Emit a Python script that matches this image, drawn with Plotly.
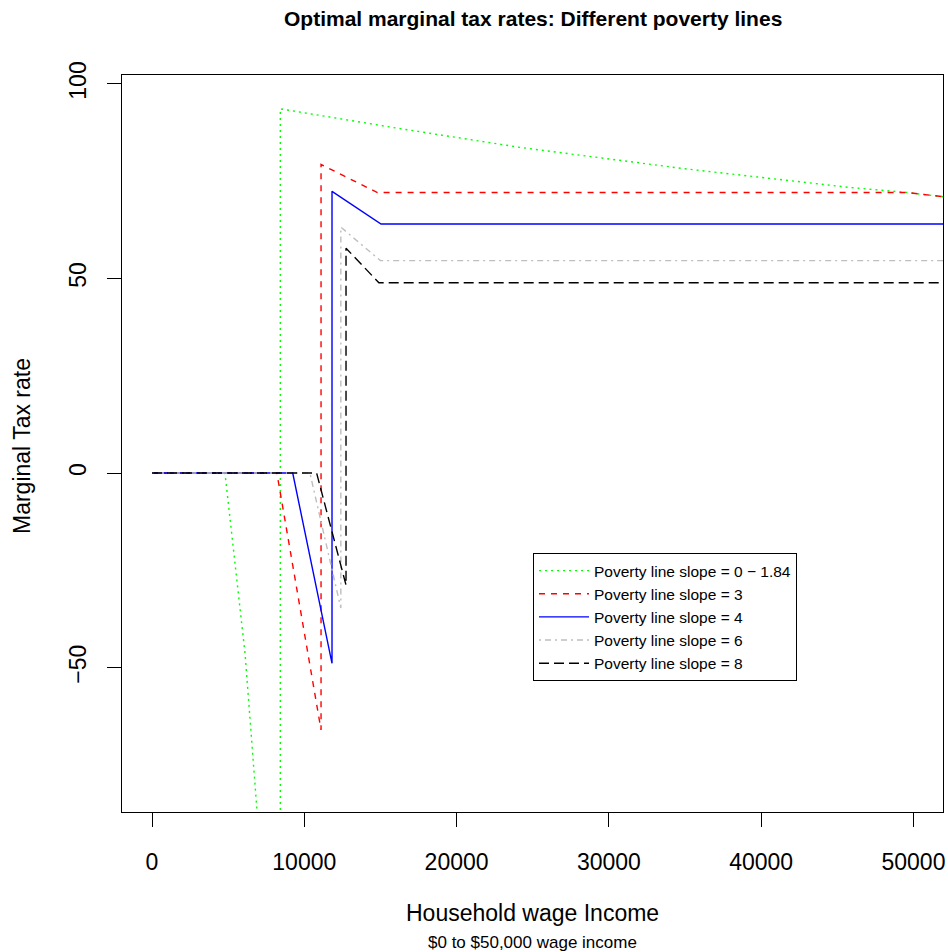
import plotly.graph_objects as go

# ---- data ----
series_names = [
    "Poverty line slope = 0 \u2212 1.84",
    "Poverty line slope = 3",
    "Poverty line slope = 4",
    "Poverty line slope = 6",
    "Poverty line slope = 8",
]

green_x = [0, 4790, 5450, 6110, 6900, 8425, 8425, 16000, 24160, 35000, 45830, 49570, 52000]
green_y = [0, 0, -23.2, -46.4, -87.0, -150.0, 93.6, 88.7, 83.7, 78.2, 73.4, 72.1, 71.0]

red_x = [0, 8200, 11100, 11100, 14800, 49570, 52000]
red_y = [0, 0, -66.0, 79.3, 72.1, 72.1, 71.0]

blue_x = [0, 9240, 11820, 11820, 15040, 52000]
blue_y = [0, 0, -48.9, 72.4, 64.0, 64.0]

gray_x = [0, 10370, 12400, 12400, 15000, 52000]
gray_y = [0, 0, -34.7, 63.2, 54.6, 54.6]

black_x = [0, 10810, 12740, 12740, 14900, 52000]
black_y = [0, 0, -28.8, 57.8, 48.9, 48.9]

x_ticks = [0, 10000, 20000, 30000, 40000, 50000]
y_ticks = [-50, 0, 50, 100]

# ---- styles ----
styles = [
    dict(color="#00FF00", dash="2px,4px"),
    dict(color="#FF0000", dash="6px,6px"),
    dict(color="#0000FF", dash="solid"),
    dict(color="#BEBEBE", dash="2px,4px,6px,4px"),
    dict(color="#000000", dash="10px,5px"),
]
data_x = [green_x, red_x, blue_x, gray_x, black_x]
data_y = [green_y, red_y, blue_y, gray_y, black_y]

FONT = "Liberation Sans, Arial, Helvetica, sans-serif"

fig = go.Figure()
for name, xs, ys, st in zip(series_names, data_x, data_y, styles):
    fig.add_trace(go.Scatter(
        x=xs, y=ys, mode="lines", name=name,
        line=dict(color=st["color"], dash=st["dash"], width=1.4),
    ))

fig.update_layout(
    width=948, height=952,
    margin=dict(l=122, r=5, t=75, b=140, autoexpand=False),
    plot_bgcolor="white", paper_bgcolor="white",
    font=dict(family=FONT, color="black", size=23),
    showlegend=True,
    legend=dict(
        x=0.5006, y=0.3514, xanchor="left", yanchor="top",
        bordercolor="black", borderwidth=1, bgcolor="white",
        font=dict(size=15.5, family=FONT), itemwidth=50, tracegroupgap=0,
    ),
    xaxis=dict(
        range=[-1970, 51940], tickvals=x_ticks, ticktext=[str(v) for v in x_ticks],
        showgrid=False, zeroline=False, showline=True, mirror=True,
        linecolor="black", linewidth=1, ticks="outside", ticklen=14,
        tickcolor="black", tickwidth=1, tickfont=dict(size=23),
        ticklabelstandoff=15,
    ),
    yaxis=dict(
        range=[-87.1, 102.3], tickvals=y_ticks,
        showgrid=False, zeroline=False, showline=True, mirror=True,
        linecolor="black", linewidth=1, ticks="outside", ticklen=14,
        tickcolor="black", tickwidth=1, tickfont=dict(size=23),
        tickangle=-90, ticklabelstandoff=12,
    ),
    annotations=[
        dict(text="<b>Optimal marginal tax rates: Different poverty lines</b>",
             xref="paper", yref="paper", x=0.5, y=1.076, xanchor="center", yanchor="middle",
             showarrow=False, font=dict(size=21, family=FONT)),
        dict(text="Household wage Income",
             xref="paper", yref="paper", x=0.5, y=-0.137, xanchor="center", yanchor="middle",
             showarrow=False, font=dict(size=23, family=FONT)),
        dict(text="$0 to $50,000 wage income",
             xref="paper", yref="paper", x=0.5, y=-0.1764, xanchor="center", yanchor="middle",
             showarrow=False, font=dict(size=17, family=FONT)),
        dict(text="Marginal Tax rate", textangle=-90,
             xref="paper", yref="paper", x=-0.1218, y=0.4966, xanchor="center", yanchor="middle",
             showarrow=False, font=dict(size=23, family=FONT)),
    ],
)

fig.write_html("out.html")
